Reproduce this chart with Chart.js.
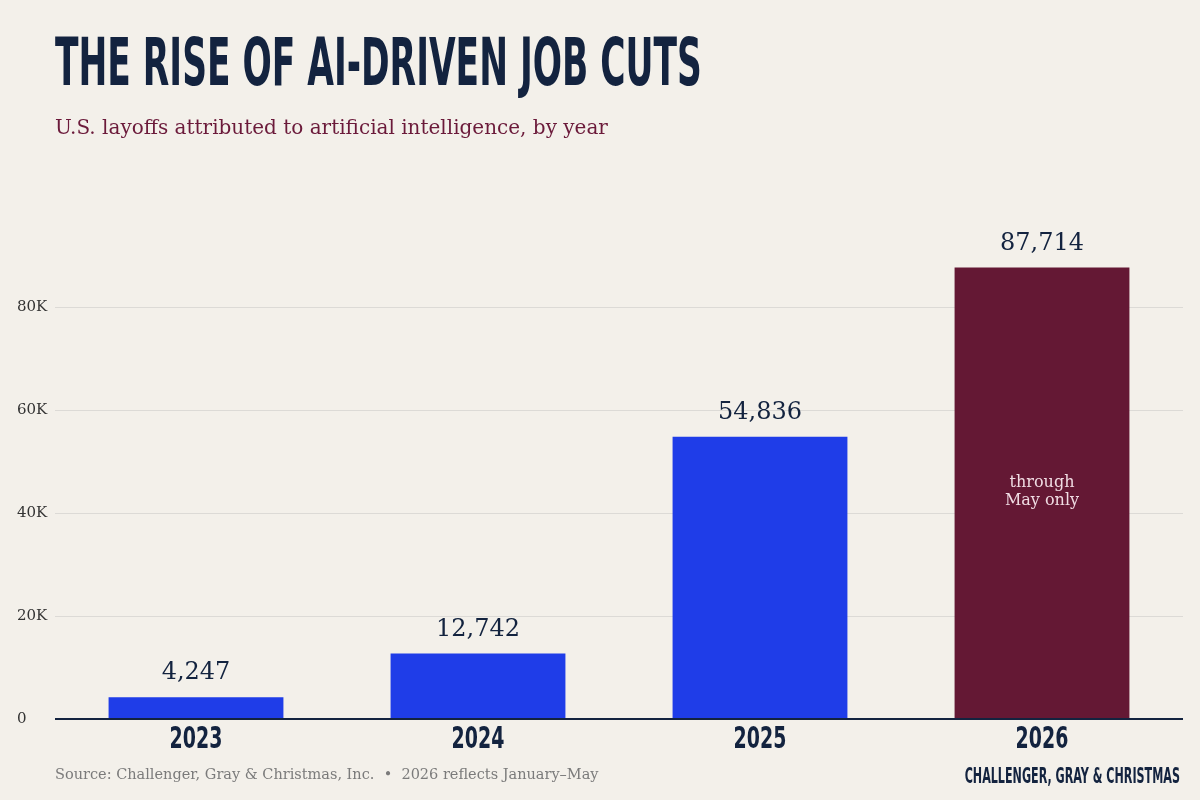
<!DOCTYPE html>
<html><head><meta charset="utf-8">
<script src="https://cdn.jsdelivr.net/npm/chart.js@4/dist/chart.umd.min.js"></script>
<style>
html,body{margin:0;padding:0;background:#f3f0ea;width:1200px;height:800px;overflow:hidden}
#wrap{position:relative;width:1200px;height:800px}
canvas{position:absolute;left:0;top:0}
.t{position:absolute;white-space:nowrap}
#title{left:55px;top:26px;font-family:'Liberation Sans Narrow','DejaVu Sans Condensed',sans-serif;font-weight:bold;font-size:66px;line-height:74px;color:#13233f;transform-origin:left top;transform:scaleX(0.58)}
#sub{left:55px;top:115px;font-family:'DejaVu Serif','Liberation Serif',serif;font-size:20px;color:#6b1a3a}
#src{left:55px;top:766px;font-family:'DejaVu Serif','Liberation Serif',serif;font-size:14.5px;color:#7b7b7b}
#brand{right:20px;top:764px;font-family:'Liberation Sans Narrow','DejaVu Sans Condensed',sans-serif;font-weight:bold;font-size:21px;color:#13233f;transform-origin:right top;transform:scaleX(0.59)}
</style></head><body>
<div id="wrap">
<canvas id="c" width="1200" height="800"></canvas>
<div class="t" id="title">THE RISE OF AI-DRIVEN JOB CUTS</div>
<div class="t" id="sub">U.S. layoffs attributed to artificial intelligence, by year</div>
<div class="t" id="src">Source: Challenger, Gray &amp; Christmas, Inc. &nbsp;•&nbsp; 2026 reflects January–May</div>
<div class="t" id="brand">CHALLENGER, GRAY &amp; CHRISTMAS</div>
</div>
<script>
const years = ['2023','2024','2025','2026'];
const layoffs = [4247, 12742, 54836, 87714];
const barColors = ['#1f3de8','#1f3de8','#1f3de8','#641834'];
const yTicks = [0, 20000, 40000, 60000, 80000];

const labelPlugin = {
  id:'lbl',
  afterDatasetsDraw(chart){
    const ctx = chart.ctx;
    const meta = chart.getDatasetMeta(0);
    ctx.save();
    ctx.textAlign='center';
    meta.data.forEach((bar,i)=>{
      ctx.fillStyle='#13233f';
      ctx.font='24px "DejaVu Serif", "Liberation Serif", serif';
      ctx.textBaseline='bottom';
      ctx.fillText(layoffs[i].toLocaleString('en-US'), bar.x, bar.y-12);
      ctx.save();
      ctx.translate(bar.x, 740);
      ctx.scale(0.68, 1);
      ctx.font='bold 31px "Liberation Sans Narrow", "DejaVu Sans Condensed", sans-serif';
      ctx.textBaseline='middle';
      ctx.fillText(years[i], 0, 0);
      ctx.restore();
    });
    const b = meta.data[3];
    ctx.fillStyle='#f0dce3';
    ctx.font='16px "DejaVu Serif", "Liberation Serif", serif';
    ctx.textBaseline='middle';
    ctx.fillText('through', b.x, 483);
    ctx.fillText('May only', b.x, 501);
    ctx.restore();
  }
};

new Chart(document.getElementById('c'), {
  type:'bar',
  data:{labels:years, datasets:[{data:layoffs, backgroundColor:barColors, categoryPercentage:1, barPercentage:0.62}]},
  options:{
    responsive:false, animation:false,
    layout:{padding:{top:230,bottom:31,right:17,left:17}},
    plugins:{legend:{display:false},tooltip:{enabled:false}},
    scales:{
      x:{
        grid:{display:false}, border:{display:false},
        ticks:{display:false},
        afterFit(s){s.height=50;}
      },
      y:{
        min:0, max:95000,
        afterBuildTicks(s){s.ticks = yTicks.map(v=>({value:v}));},
        border:{display:false},
        grid:{color:c=>c.tick&&c.tick.value===0?'#13233f':'#dcdad6', lineWidth:c=>c.tick&&c.tick.value===0?2:1, drawTicks:false},
        ticks:{crossAlign:'far',padding:6,color:'#333',font:{family:'"DejaVu Serif","Liberation Serif",serif',size:15},
          callback:v=>v===0?'0':(v/1000)+'K'},
        afterFit(s){s.width=38;}
      }
    }
  },
  plugins:[labelPlugin]
});
</script>
</body></html>
